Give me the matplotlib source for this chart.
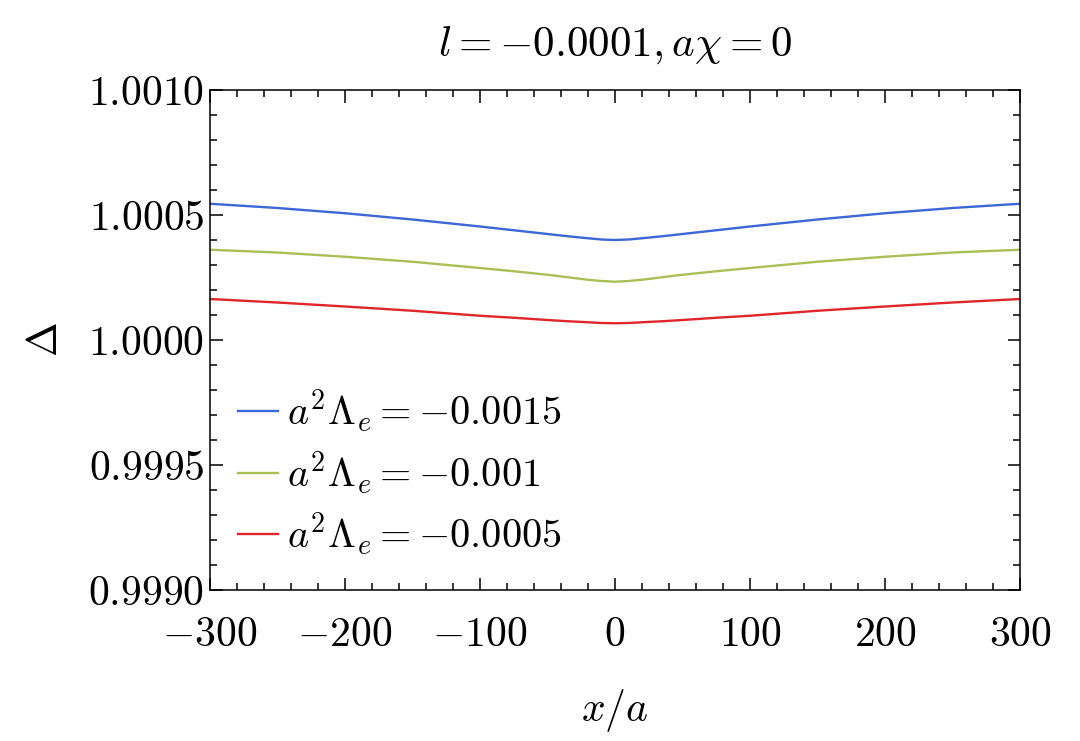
import matplotlib
matplotlib.use("Agg")
import matplotlib.pyplot as plt
from matplotlib.ticker import MultipleLocator, FuncFormatter

plt.rcParams['mathtext.fontset'] = 'cm'
plt.rcParams['font.family'] = 'serif'
plt.rcParams['font.serif'] = ['cmr10', 'DejaVu Serif']
plt.rcParams['axes.unicode_minus'] = False

# x/a positions and Delta values (symmetric about 0)
x = [-300, -250, -200, -150, -100, -75, -50, -35, -20, -10, 0,
     10, 20, 35, 50, 75, 100, 150, 200, 250, 300]
delta_blue = [1.000545, 1.000528, 1.000507, 1.000482, 1.000454, 1.000439, 1.000424, 1.000415, 1.000407, 1.000402, 1.000400,
              1.000402, 1.000407, 1.000415, 1.000424, 1.000439, 1.000454, 1.000482, 1.000507, 1.000528, 1.000545]
delta_green = [1.000361, 1.000350, 1.000333, 1.000313, 1.000288, 1.000275, 1.000261, 1.000251, 1.000241, 1.000236, 1.000233,
               1.000236, 1.000241, 1.000251, 1.000261, 1.000275, 1.000288, 1.000313, 1.000333, 1.000350, 1.000361]
delta_red = [1.000164, 1.000150, 1.000134, 1.000117, 1.000097, 1.000089, 1.000080, 1.000075, 1.000071, 1.000068, 1.000067,
             1.000068, 1.000071, 1.000075, 1.000080, 1.000089, 1.000097, 1.000117, 1.000134, 1.000150, 1.000164]
labels = [r'$a^2\Lambda_e=-0.0015$', r'$a^2\Lambda_e=-0.001$', r'$a^2\Lambda_e=-0.0005$']
colors = ['#3d66d6', '#a9bf55', '#e0262a']

fig = plt.figure(figsize=(10.8, 7.41), dpi=100)
ax = fig.add_axes([210/1080, 1-590/741, 810/1080, 500/741])

for ys, lab, c in zip([delta_blue, delta_green, delta_red], labels, colors):
    ax.plot(x, ys, color=c, lw=1.7, label=lab)

ax.set_xlim(-300, 300)
ax.set_ylim(0.9990, 1.0010)
ax.xaxis.set_major_locator(MultipleLocator(100))
ax.xaxis.set_minor_locator(MultipleLocator(20))
ax.yaxis.set_major_locator(MultipleLocator(0.0005))
ax.yaxis.set_minor_locator(MultipleLocator(0.0001))
ax.xaxis.set_major_formatter(FuncFormatter(lambda v, p: r'$%d$' % round(v)))
ax.yaxis.set_major_formatter(FuncFormatter(lambda v, p: r'$%.4f$' % v))
ax.tick_params(which='both', direction='in', top=True, right=True, width=1.1, labelsize=30)
ax.tick_params(which='major', length=9)
ax.tick_params(axis='x', which='major', pad=19)
ax.tick_params(axis='y', which='major', pad=4)
ax.tick_params(which='minor', length=5)
for s in ax.spines.values():
    s.set_linewidth(1.1)

ax.set_xlabel(r'$x/a$', fontsize=30, labelpad=24)
ax.set_ylabel(r'$\Delta$', fontsize=30, labelpad=17)
ax.set_title(r'$l=-0.0001, a\chi=0$', fontsize=31, pad=25)

ax.legend(loc='lower left', bbox_to_anchor=(0.0, 0.007), frameon=False, fontsize=29,
          handlelength=1.0, handletextpad=0.2, labelspacing=0.35, borderaxespad=0.3)

fig.savefig('out.png', dpi=100)
